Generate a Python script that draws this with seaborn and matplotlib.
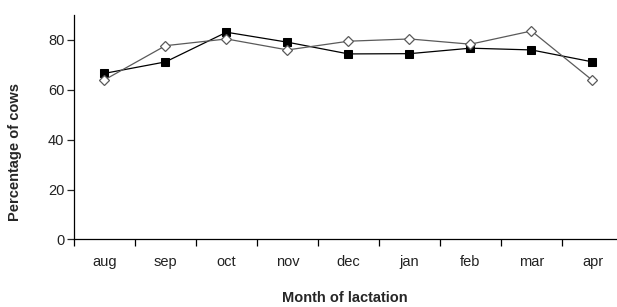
import matplotlib
matplotlib.use('Agg')
import matplotlib.pyplot as plt
import seaborn as sns
import pandas as pd
import numpy as np

months = ['aug', 'sep', 'oct', 'nov', 'dec', 'jan', 'feb', 'mar', 'apr']
# filled squares
serie_quadrado = [66.6, 71.2, 83.1, 79.1, 74.4, 74.5, 76.7, 76.0, 71.2]
# open diamonds
serie_losango = [64.0, 77.7, 80.4, 76.0, 79.5, 80.4, 78.3, 83.6, 63.8]

df = pd.DataFrame({'Mes': months, 'Quadrado': serie_quadrado, 'Losango': serie_losango})

sns.set_style('white')
plt.rcParams['font.family'] = ['Liberation Sans', 'DejaVu Sans']

fig = plt.figure(figsize=(6.17, 3.07), dpi=100)
# axes runs slightly past the right edge, like the original
ax = fig.add_axes([0.1199, 0.2199, 0.8898, 0.7312])

sns.lineplot(data=df, x='Mes', y='Quadrado', ax=ax, color='black', linewidth=0.9,
             marker='s', markersize=5.8, markerfacecolor='black', markeredgecolor='black', sort=False)
sns.lineplot(data=df, x='Mes', y='Losango', ax=ax, color='#5a5a5a', linewidth=0.9,
             marker='D', markersize=5.0, markerfacecolor='white', markeredgecolor='#5a5a5a',
             markeredgewidth=0.9, sort=False)

ax.set_xlim(-0.5, len(months) - 0.5)
ax.set_ylim(0, 90)
ax.set_yticks([0, 20, 40, 60, 80])
ax.set_xticks(range(len(months)))
ax.set_xticklabels(months)
# tick marks between categories
ax.set_xticks(np.arange(-0.5, len(months), 1.0), minor=True)
ax.tick_params(axis='x', which='major', length=0, pad=11, labelsize=10.5, colors='#222222')
ax.tick_params(axis='x', which='minor', length=5, width=0.9, color='black', direction='out', bottom=True)
ax.tick_params(axis='y', length=5, width=0.9, direction='out', left=True, labelsize=10.5, pad=2)
ax.tick_params(axis='y', labelcolor='#222222')

for s in ['top', 'right']:
    ax.spines[s].set_visible(False)
for s in ['left', 'bottom']:
    ax.spines[s].set_color('black')
    ax.spines[s].set_linewidth(0.9)

ax.set_xlabel('Month of lactation', fontsize=10.5, fontweight='bold')
ax.set_ylabel('Percentage of cows', fontsize=10.5, fontweight='bold')
ax.xaxis.set_label_coords(271 / 549.0, -58.5 / 224.5)
ax.xaxis.label.set_va('center')
ax.yaxis.set_label_coords(-59 / 549.0, 87.5 / 224.5)
ax.yaxis.label.set_va('center')

fig.savefig('out.png', dpi=100)
